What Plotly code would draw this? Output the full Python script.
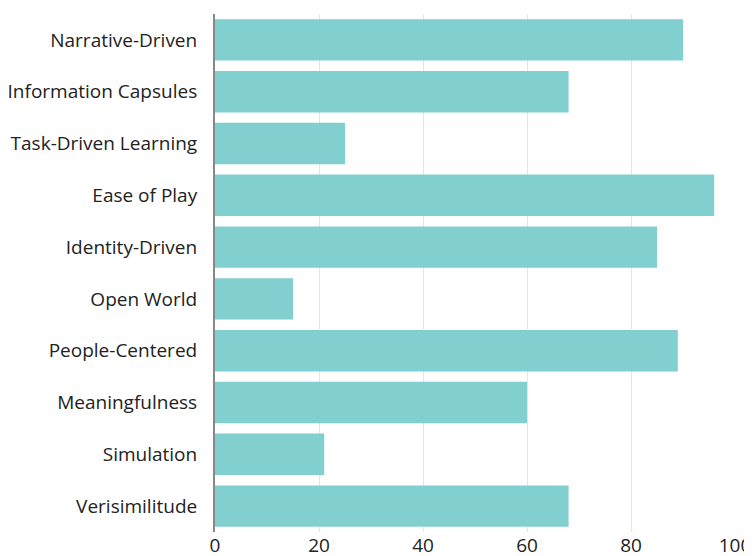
import plotly.graph_objects as go

categories = ["Narrative-Driven", "Information Capsules", "Task-Driven Learning",
              "Ease of Play", "Identity-Driven", "Open World", "People-Centered",
              "Meaningfulness", "Simulation", "Verisimilitude"]
values = [90, 68, 25, 96, 85, 15, 89, 60, 21, 68]
x_ticks = [0, 20, 40, 60, 80, 100]

fig = go.Figure(go.Bar(
    x=values, y=categories, orientation="h",
    marker=dict(color="#82cfcf", line=dict(width=0)),
))

fig.update_layout(
    width=752, height=556,
    margin=dict(l=207, r=25, t=6, b=32),
    plot_bgcolor="white", paper_bgcolor="white",
    font=dict(family="Open Sans", size=19, color="#222222"),
    bargap=0.2,
    showlegend=False,
)
fig.update_xaxes(
    range=[0, 100], tickvals=x_ticks, showgrid=True, gridcolor="#e4e4e4",
    gridwidth=1, zeroline=False, showline=False,
    ticks="", tickfont=dict(size=19, color="#222222"), automargin=False,
)
fig.update_yaxes(
    categoryorder="array", categoryarray=categories, autorange="reversed",
    showgrid=False, zeroline=False, showline=True, linecolor="#888888", linewidth=2,
    ticks="outside", ticklen=12, tickcolor="rgba(0,0,0,0)",
    tickfont=dict(size=19, color="#222222"), automargin=False,
)

fig.write_html("out.html")
